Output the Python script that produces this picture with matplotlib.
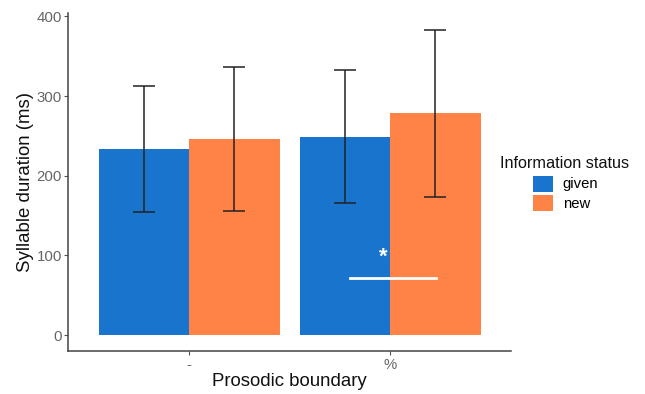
import numpy as np
import matplotlib.pyplot as plt

plt.rcParams['font.family'] = ['Liberation Sans', 'DejaVu Sans']

# Données
frontieres = ["-", "%"]
statuts = ["given", "new"]
couleurs = ["#1874CD", "#FF8247"]
duree = {"given": [234, 249], "new": [246, 279]}
bas = {"given": [155, 166], "new": [156, 173]}
haut = {"given": [313, 333], "new": [336, 383]}
ligne_sig = [1.8, 2.23, 72]
etoile = [1.965, 98, "*"]

fig = plt.figure(figsize=(6.45, 3.94), dpi=100)
ax = fig.add_axes([0.106, 0.110, 0.686, 0.8575])

x = np.arange(1, len(frontieres) + 1)
larg = 0.45
decal = [-0.225, 0.225]
for i, s in enumerate(statuts):
    xs = x + decal[i]
    ax.bar(xs, duree[s], width=larg, color=couleurs[i], label=s, zorder=1)
    m = np.array(duree[s])
    err = [m - np.array(bas[s]), np.array(haut[s]) - m]
    ax.errorbar(xs, m, yerr=err, fmt="none", ecolor="#222222", elinewidth=1.1,
                capsize=8, capthick=1.1, zorder=3)

# trait et étoile de significativité
ax.plot(ligne_sig[:2], [ligne_sig[2]] * 2, color="white", lw=2, zorder=4)
ax.text(etoile[0], etoile[1], etoile[2], color="white", fontsize=16,
        fontweight="bold", ha="center", va="center", zorder=4)

ax.set_xlim(0.4, 2.6)
ax.set_ylim(-19.5, 404.5)
ax.set_xticks(x)
ax.set_xticklabels(frontieres)
ax.set_yticks([0, 100, 200, 300, 400])
ax.tick_params(colors="#555555", labelsize=10.8, length=3, width=0.8,
               labelcolor="#666666")
ax.tick_params(axis="x", pad=2)
ax.tick_params(axis="y", pad=1.5)
ax.spines["top"].set_visible(False)
ax.spines["right"].set_visible(False)
for sp in ["left", "bottom"]:
    ax.spines[sp].set_color("#444444")
    ax.spines[sp].set_linewidth(1.1)

ax.set_xlabel("Prosodic boundary", fontsize=13.4, color="#111111", labelpad=1)
ax.set_ylabel("Syllable duration (ms)", fontsize=13.4, color="#111111", labelpad=2)

# légende : titre à part, carrés décalés comme sur l'original
fig.text(500 / 645, 1 - 163 / 394, "Information status", fontsize=11.7,
         color="#111111", ha="left", va="center")
ax.legend(loc="upper left", bbox_to_anchor=(533 / 645, 1 - 175.5 / 394),
          bbox_transform=fig.transFigure, frameon=False, fontsize=10.7,
          borderpad=0, borderaxespad=0, handlelength=1.34, handleheight=1.28,
          handletextpad=0.65, labelspacing=0.22)

fig.savefig("out.png", dpi=100)
